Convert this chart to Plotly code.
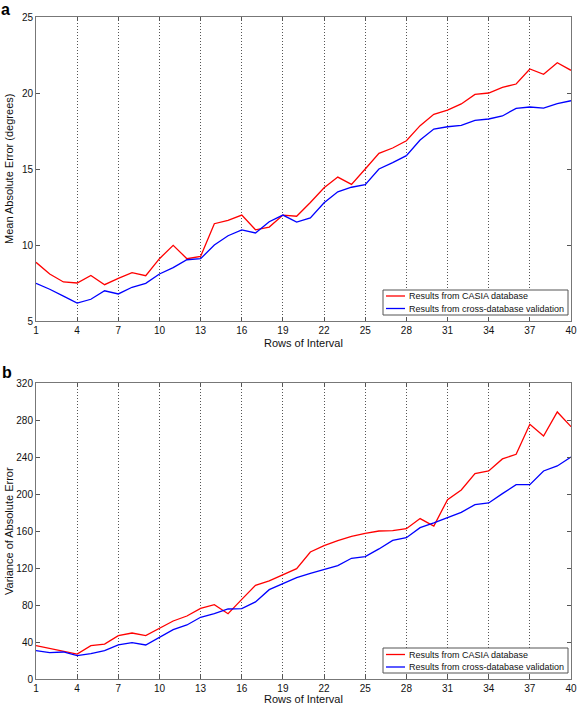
import plotly.graph_objects as go

rows = list(range(1, 41))
x_ticks = [1, 4, 7, 10, 13, 16, 19, 22, 25, 28, 31, 34, 37, 40]

mae_casia = [8.86, 8.09, 7.57, 7.50, 8.00, 7.39, 7.80, 8.18, 7.98, 9.10,
             9.98, 9.10, 9.25, 11.40, 11.62, 11.97, 11.00, 11.18, 11.97, 11.89,
             12.80, 13.77, 14.47, 13.99, 15.00, 16.03, 16.38, 16.86, 17.85, 18.60,
             18.88, 19.28, 19.91, 20.00, 20.37, 20.59, 21.58, 21.23, 21.99, 21.49]
mae_cross = [7.48, 7.09, 6.64, 6.18, 6.43, 6.99, 6.78, 7.22, 7.48, 8.09,
             8.51, 9.03, 9.10, 10.00, 10.61, 10.99, 10.79, 11.53, 11.97, 11.51,
             11.78, 12.78, 13.50, 13.80, 13.97, 15.00, 15.42, 15.88, 16.91, 17.63,
             17.78, 17.87, 18.20, 18.29, 18.49, 18.99, 19.08, 19.01, 19.30, 19.49]

var_casia = [36.0, 33.2, 30.6, 27.0, 36.0, 37.8, 46.9, 49.7, 46.9, 54.8,
             62.7, 68.1, 76.4, 80.4, 70.6, 86.1, 101.3, 106.0, 112.4, 119.3,
             137.3, 144.2, 149.6, 154.2, 157.5, 160.0, 160.4, 162.5, 173.4, 165.4,
             193.9, 204.3, 222.0, 224.9, 237.9, 242.9, 275.3, 262.7, 288.7, 272.8]
var_cross = [30.6, 28.5, 29.2, 25.2, 27.4, 30.6, 36.8, 39.3, 36.8, 45.4,
             53.3, 58.4, 66.7, 70.6, 75.7, 76.0, 83.3, 96.6, 103.1, 109.6,
             114.2, 118.2, 122.5, 130.5, 132.3, 140.6, 149.9, 152.8, 163.6, 168.7,
             174.1, 180.2, 188.5, 190.3, 200.4, 210.1, 210.1, 224.9, 230.3, 240.0]

mae_ticks = [5, 10, 15, 20, 25]
var_ticks = [0, 40, 80, 120, 160, 200, 240, 280, 320]

name_a = "Results from CASIA database"
name_b = "Results from cross-database validation"
color_a = "#ff0000"
color_b = "#0000ff"

W, H = 577, 707
FONT = "Liberation Sans, Arial, sans-serif"
TXT = "#111111"

def px(x):
    return x / W

def py(y):
    return 1 - y / H

fig = go.Figure()
fig.add_trace(go.Scatter(x=rows, y=mae_casia, mode="lines", name=name_a,
                         line=dict(color=color_a, width=1.3), xaxis="x", yaxis="y"))
fig.add_trace(go.Scatter(x=rows, y=mae_cross, mode="lines", name=name_b,
                         line=dict(color=color_b, width=1.3), xaxis="x", yaxis="y"))
fig.add_trace(go.Scatter(x=rows, y=var_casia, mode="lines", name=name_a,
                         line=dict(color=color_a, width=1.3), xaxis="x2", yaxis="y2"))
fig.add_trace(go.Scatter(x=rows, y=var_cross, mode="lines", name=name_b,
                         line=dict(color=color_b, width=1.3), xaxis="x2", yaxis="y2"))

# plot areas (pixels)
L, R = 36, 571
TOP_A, BOT_A = 17, 321
TOP_B, BOT_B = 383, 679

def xaxis(anchor):
    return dict(domain=[px(L), px(R)], anchor=anchor, range=[1, 40], tickmode="array",
                tickvals=x_ticks, ticks="inside", ticklen=4, tickcolor="#555",
                showline=True, linecolor="#777", linewidth=1, mirror="ticks",
                showgrid=True, gridcolor="#555", griddash="1px,2px", gridwidth=1,
                zeroline=False, automargin=False,
                tickfont=dict(size=10, color=TXT, family=FONT))

def yaxis(anchor, top, bot, rng, ticks):
    return dict(domain=[py(bot), py(top)], anchor=anchor, range=rng, tickmode="array",
                tickvals=ticks, ticks="inside", ticklen=4, tickcolor="#555",
                showline=True, linecolor="#777", linewidth=1, mirror="ticks",
                showgrid=False, zeroline=False, automargin=False,
                tickfont=dict(size=10, color=TXT, family=FONT))

shapes = []
annotations = []

def legend_box(top, bottom, y1, y2):
    shapes.append(dict(type="rect", xref="paper", yref="paper", x0=px(383), x1=px(568),
                       y0=py(bottom), y1=py(top), line=dict(color="#555", width=1),
                       fillcolor="white", layer="above"))
    for yy, col, nm in [(y1, color_a, name_a), (y2, color_b, name_b)]:
        shapes.append(dict(type="line", xref="paper", yref="paper", x0=px(386), x1=px(405),
                           y0=py(yy), y1=py(yy), line=dict(color=col, width=1.3), layer="above"))
        annotations.append(dict(text=nm, x=px(407), y=py(yy), xref="paper", yref="paper",
                                xanchor="left", yanchor="middle", showarrow=False,
                                font=dict(size=9, family=FONT, color=TXT)))

legend_box(290, 315, 296, 308.5)
legend_box(648, 673, 654.5, 667)

def title(text, x, y, angle=0):
    annotations.append(dict(text=text, x=px(x), y=py(y), xref="paper", yref="paper",
                            xanchor="center", yanchor="middle", showarrow=False, textangle=angle,
                            font=dict(size=11, family=FONT, color=TXT)))

title("Rows of Interval", 303.5, 343)
title("Rows of Interval", 303.5, 699)
title("Mean Absolute Error (degrees)", 9, 169, -90)
title("Variance of Absolute Error", 9, 531, -90)

annotations.append(dict(text="<b>a</b>", x=px(0), y=py(0), xref="paper", yref="paper",
                        xanchor="left", yanchor="top", showarrow=False, borderpad=0,
                        font=dict(size=16, family=FONT, color="black")))
annotations.append(dict(text="<b>b</b>", x=px(0), y=py(372), xref="paper", yref="paper",
                        xanchor="left", yanchor="middle", showarrow=False,
                        font=dict(size=16, family=FONT, color="black")))

fig.update_layout(
    width=W, height=H,
    margin=dict(l=0, r=0, t=0, b=0, autoexpand=False),
    paper_bgcolor="white", plot_bgcolor="white",
    font=dict(family=FONT, color=TXT),
    showlegend=False,
    xaxis=xaxis("y"),
    yaxis=yaxis("x", TOP_A, BOT_A, [5, 25], mae_ticks),
    xaxis2=xaxis("y2"),
    yaxis2=yaxis("x2", TOP_B, BOT_B, [0, 320], var_ticks),
    shapes=shapes,
    annotations=annotations,
)

fig.write_html("out.html", config={"displayModeBar": False},
               post_script="document.body.style.margin='0';document.body.style.overflow='hidden';")
